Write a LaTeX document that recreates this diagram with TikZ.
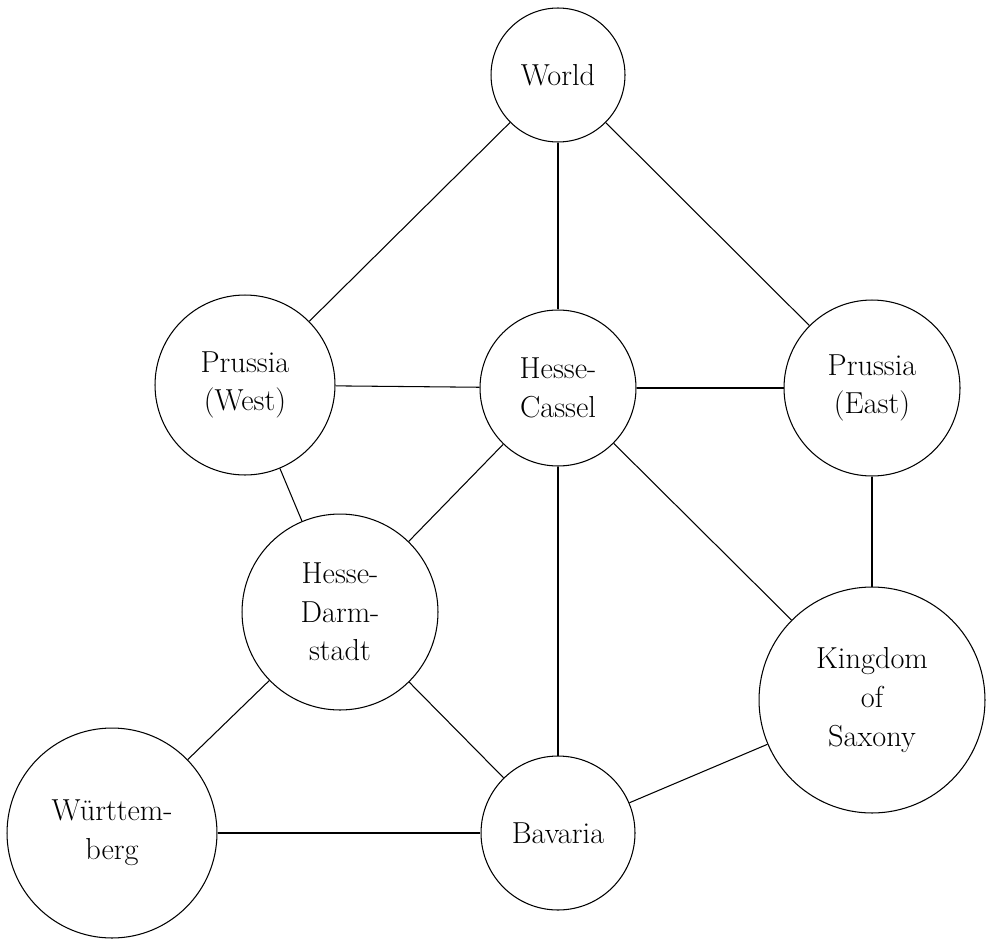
\documentclass[tikz,border=0pt]{standalone}
\begin{document}
\begin{tikzpicture}[x=0.02cm,y=-0.02cm,
  state/.style={draw,circle,fill=white,line width=0.6pt,inner sep=0pt,align=center,font=\LARGE},
  link/.style={-,line width=0.6pt}]
\useasboundingbox (0,0) rectangle (993,943);

%World
\node[state,minimum size=2.68cm] (world) at (558,75){World};

%Prussia West
\node[state,minimum size=3.6cm] (pwest) at (245,385){Prussia\\(West)};

%Hesse-Cassel
\node[state,minimum size=3.12cm] (hcassel) at (558,388){Hesse-\\Cassel};

%Prussia East
\node[state,minimum size=3.52cm] (peast) at (872,388){Prussia\\(East)};

%Hesse-Darmstadt
\node[state,minimum size=3.92cm] (hdarm) at (340,612){Hesse-\\Darm-\\stadt};

%Kingdom of Saxony
\node[state,minimum size=4.52cm] (saxony) at (872,700){Kingdom\\of\\Saxony};

%Wuerttemberg
\node[state,minimum size=4.2cm] (wuert) at (112,833){Württem-\\berg};

%Bavaria
\node[state,minimum size=3.08cm] (bavaria) at (558,833){Bavaria};

\draw[link] (world) -- (pwest);
\draw[link] (world) -- (hcassel);
\draw[link] (world) -- (peast);
\draw[link] (pwest) -- (hcassel);
\draw[link] (hcassel) -- (peast);
\draw[link] (pwest) -- (hdarm);
\draw[link] (hcassel) -- (hdarm);
\draw[link] (hcassel) -- (bavaria);
\draw[link] (hcassel) -- (saxony);
\draw[link] (peast) -- (saxony);
\draw[link] (hdarm) -- (wuert);
\draw[link] (hdarm) -- (bavaria);
\draw[link] (wuert) -- (bavaria);
\draw[link] (bavaria) -- (saxony);

\end{tikzpicture}
\end{document}
